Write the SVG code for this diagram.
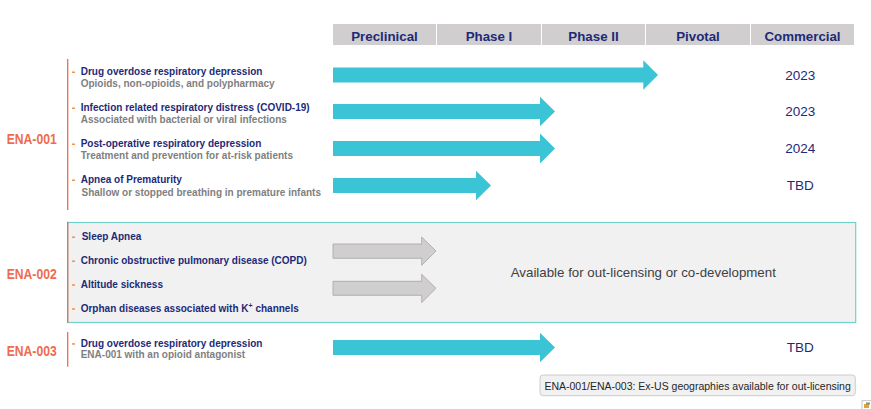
<svg xmlns="http://www.w3.org/2000/svg" width="871" height="409" viewBox="0 0 871 409">
<style>
.hdr{fill:#D0CECE}
.ht{font-family:"Liberation Sans",Arial,sans-serif;font-weight:bold;font-size:13.3px;fill:#1E2A78;text-anchor:middle}
.ena{font-family:"Liberation Sans Narrow","Liberation Sans",Arial,sans-serif;font-weight:bold;font-size:15.5px;fill:#F06B4E}
.t{font-family:"Liberation Sans",Arial,sans-serif;font-weight:bold;font-size:10px;fill:#1E2A78}
.s{font-family:"Liberation Sans",Arial,sans-serif;font-weight:bold;font-size:10px;fill:#7F7F7F}
.yr{font-family:"Liberation Sans",Arial,sans-serif;font-size:13.5px;fill:#1E2A78;text-anchor:middle}
.bul{fill:#F0904E}
.vl{stroke:#F06B4E;stroke-width:1.3;fill:none}
.ca{fill:#3BC3D6}
.ga{fill:#D0CECE;stroke:#A5A5A5;stroke-width:0.8}
</style>
<rect width="871" height="409" fill="#FFFFFF"/>
<g id="header">
<rect class="hdr" x="333" y="24" width="103" height="21"/>
<rect class="hdr" x="437" y="24" width="104" height="21"/>
<rect class="hdr" x="542" y="24" width="103" height="21"/>
<rect class="hdr" x="646" y="24" width="104" height="21"/>
<rect class="hdr" x="751" y="24" width="103" height="21"/>
<text class="ht" x="384.5" y="40.5">Preclinical</text>
<text class="ht" x="489" y="40.5">Phase I</text>
<text class="ht" x="593.5" y="40.5">Phase II</text>
<text class="ht" x="698" y="40.5">Pivotal</text>
<text class="ht" x="802.5" y="40.5">Commercial</text>
</g>
<g id="ena002-box">
<rect x="67.7" y="222.5" width="788" height="100" fill="#F1F1F1" stroke="#72D2C9" stroke-width="1.2"/>
</g>
<g id="ena001">
<text class="ena" x="6.7" y="144.3" textLength="50" lengthAdjust="spacingAndGlyphs">ENA-001</text>
<line class="vl" x1="67.7" y1="59" x2="67.7" y2="210"/>
<rect class="bul" x="72" y="71.5" width="3" height="1.5"/>
<text class="t" x="80.7" y="75">Drug overdose respiratory depression</text>
<text class="s" x="80.7" y="87">Opioids, non-opioids, and polypharmacy</text>
<rect class="bul" x="72" y="107.5" width="3" height="1.5"/>
<text class="t" x="80.7" y="111">Infection related respiratory distress (COVID-19)</text>
<text class="s" x="80.7" y="123">Associated with bacterial or viral infections</text>
<rect class="bul" x="72" y="143.5" width="3" height="1.5"/>
<text class="t" x="80.7" y="147">Post-operative respiratory depression</text>
<text class="s" x="80.7" y="159">Treatment and prevention for at-risk patients</text>
<rect class="bul" x="72" y="179.5" width="3" height="1.5"/>
<text class="t" x="80.7" y="183">Apnea of Prematurity</text>
<text class="s" x="81.5" y="196">Shallow or stopped breathing in premature infants</text>
</g>
<g id="ena002">
<text class="ena" x="6.7" y="278.5" textLength="50" lengthAdjust="spacingAndGlyphs">ENA-002</text>
<line class="vl" x1="67.7" y1="221.7" x2="67.7" y2="323"/>
<rect class="bul" x="72" y="236.5" width="3" height="1.5"/>
<text class="t" x="81.7" y="240">Sleep Apnea</text>
<rect class="bul" x="72" y="260.5" width="3" height="1.5"/>
<text class="t" x="80.7" y="264">Chronic obstructive pulmonary disease (COPD)</text>
<rect class="bul" x="72" y="284.2" width="3" height="1.5"/>
<text class="t" x="80.7" y="287.7">Altitude sickness</text>
<rect class="bul" x="72" y="308.2" width="3" height="1.5"/>
<text class="t" x="80.7" y="311.7">Orphan diseases associated with K<tspan font-size="7" dy="-4">+</tspan><tspan dy="4"> channels</tspan></text>
<text x="643.3" y="276.7" font-family="'Liberation Sans',Arial,sans-serif" font-size="13.3" fill="#404040" text-anchor="middle">Available for out-licensing or co-development</text>
</g>
<g id="ena003">
<text class="ena" x="6.7" y="355.7" textLength="50" lengthAdjust="spacingAndGlyphs">ENA-003</text>
<line class="vl" x1="67.7" y1="332" x2="67.7" y2="366.7"/>
<rect class="bul" x="72" y="343.2" width="3" height="1.5"/>
<text class="t" x="80.7" y="346.7">Drug overdose respiratory depression</text>
<text class="s" x="80.7" y="358.3">ENA-001 with an opioid antagonist</text>
</g>
<g id="connectors">
<path class="ca" d="M333,67.5 H643.3 V60.3 L658,75 L643.3,89.7 V82.5 H333 Z"/>
<path class="ca" d="M333,104 H540 V96.7 L555,111.5 L540,126.3 V119 H333 Z"/>
<path class="ca" d="M333,141 H540 V133.5 L555,148.5 L540,163.5 V156 H333 Z"/>
<path class="ca" d="M333,178 H476 V170.7 L491,185.5 L476,200.3 V193 H333 Z"/>
<path class="ca" d="M333,340 H540 V332.7 L555,347.5 L540,362.3 V355 H333 Z"/>
<path class="ga" d="M333,244 H421.7 V237 L436,251 L421.7,265.3 V258.3 H333 Z"/>
<path class="ga" d="M333,281.3 H421.7 V274.3 L436,288.3 L421.7,302.6 V295.3 H333 Z"/>
</g>
<g id="years">
<text class="yr" x="800.3" y="79.5">2023</text>
<text class="yr" x="800.3" y="116">2023</text>
<text class="yr" x="800.3" y="153">2024</text>
<text class="yr" x="800.3" y="190">TBD</text>
<text class="yr" x="800.3" y="352">TBD</text>
</g>
<g id="footer">
<rect x="540" y="375" width="315.3" height="20.7" rx="3" fill="#F1F1F1" stroke="#C0C0C0" stroke-width="0.8"/>
<text x="697.6" y="389.7" font-family="'Liberation Sans',Arial,sans-serif" font-size="10.5" fill="#262626" text-anchor="middle">ENA-001/ENA-003: Ex-US geographies available for out-licensing</text>
</g>
<g id="paste-icon">
<rect x="862" y="400.7" width="10" height="9" fill="#FFFFFF" stroke="#B8B8B8" stroke-width="0.8"/>
<rect x="864" y="404" width="5" height="4" fill="#E2A43A"/>
<rect x="866" y="402.5" width="4" height="2" fill="#8A8A8A"/>
</g>
</svg>
